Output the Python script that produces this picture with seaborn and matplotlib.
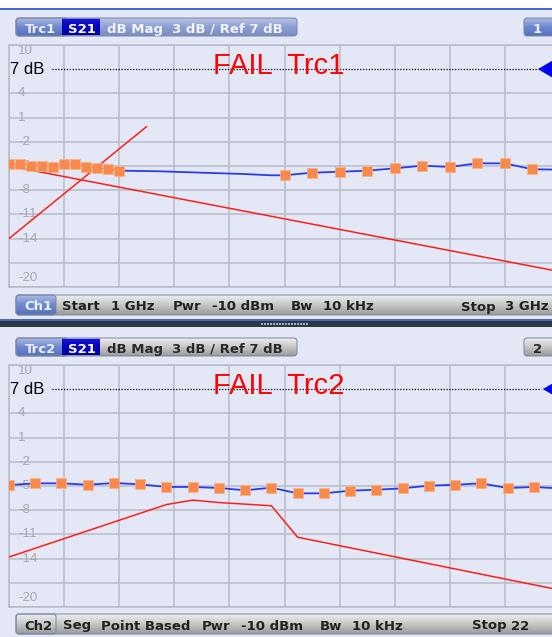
import numpy as np
import pandas as pd
import matplotlib
matplotlib.use("Agg")
import matplotlib.pyplot as plt
import seaborn as sns
from matplotlib.patches import FancyBboxPatch, Rectangle
from matplotlib.colors import LinearSegmentedColormap

# ---------------- data ----------------
# Channel 1: frequency sweep 1 GHz .. 3 GHz
trc1_marker_ghz = [1.00, 1.04, 1.08, 1.12, 1.16, 1.20, 1.24, 1.28, 1.32, 1.36, 1.40,
                   2.0, 2.1, 2.2, 2.3, 2.4, 2.5, 2.6, 2.7, 2.8, 2.9]
trc1_marker_db = [-4.80, -4.72, -4.96, -4.96, -5.12, -4.75, -4.75, -5.09, -5.29, -5.41, -5.58,
                  -6.15, -5.83, -5.71, -5.58, -5.29, -4.96, -5.12, -4.67, -4.67, -5.41]
trc1_extra_ghz = [1.45, 1.55, 1.70, 1.85, 1.95, 3.00]
trc1_extra_db = [-5.60, -5.66, -5.83, -5.99, -6.15, -5.45]

limit1a_ghz = [1.0, 3.0]
limit1a_db = [-5.0, -18.1]
limit1b_ghz = [1.0, 1.5]
limit1b_db = [-14.0, -0.1]

# Channel 2: segmented sweep on a point axis
trc2_point = list(range(1, 22))
trc2_db = [-4.88, -4.67, -4.67, -4.84, -4.63, -4.79, -5.12, -5.12, -5.25, -5.53, -5.21,
           -5.91, -5.91, -5.58, -5.46, -5.29, -4.96, -4.84, -4.67, -5.25, -5.12]
trc2_extra_point = [22]
trc2_extra_db = [-5.30]

limit2_point = [1, 7, 8, 9, 11, 12, 22]
limit2_db = [-13.8, -7.3, -6.75, -7.05, -7.45, -11.35, -17.9]

# y scale: 3 dB / div, reference 7 dB, top 10 dB
ref_level = 7
y_grid = [10, 4, 1, -2, -5, -8, -11, -14, -17, -20]
y_label_vals = [10, 4, 1, -2, -5, -8, -11, -14, -20]
y_label_txt = ["10", "4", "1", "-2", "-5", "-8", "-11", "-14", "-20"]

# ---------------- styling ----------------
W, H = 552, 637
BG = "#E4E8F6"
GRID = "#B8BCC6"
BLUE = "#2B3CEE"
RED = "#FF1E1E"
ORANGE = "#F98A4A"

sns.set_style("white")
plt.rcParams["font.family"] = ["DejaVu Sans"]

fig = plt.figure(figsize=(W / 100, H / 100), dpi=100, facecolor=BG)
bg = fig.add_axes([0, 0, 1, 1], zorder=0)
bg.set_xlim(0, W)
bg.set_ylim(H, 0)
bg.axis("off")


def grad_box(x0, y0, x1, y1, colors, r=3.0, ec="#7A86A0", z=1):
    patch = FancyBboxPatch((x0, y0), x1 - x0, y1 - y0,
                           boxstyle=f"round,pad=0,rounding_size={r}",
                           fc="none", ec=ec, lw=0.7, zorder=z + 0.5)
    bg.add_patch(patch)
    cmap = LinearSegmentedColormap.from_list("g", colors)
    grad = np.linspace(0, 1, 64).reshape(-1, 1)
    im = bg.imshow(grad, cmap=cmap, extent=(x0, x1, y1, y0), aspect="auto",
                   interpolation="bilinear", zorder=z)
    im.set_clip_path(patch)


def chrome_text(x, y, s, color, size=9.5):
    bg.text(x, y, s, color=color, fontsize=size, fontweight="bold",
            family="DejaVu Sans", va="baseline", ha="left", zorder=5)


BLUE_GRAD = ["#A9BAE6", "#6F88CF", "#5670BE"]
BLUE_REST = ["#B9C5E6", "#8D9FD2", "#7A8DC4"]
GRAY_GRAD = ["#EEEEEE", "#C6C6C6", "#9A9A9A"]
S21_GRAD = ["#1A1AD8", "#0000BE", "#0000A8"]

# top strip
bg.add_patch(Rectangle((0, 0), W, 8.3, fc="white", ec="none", zorder=1))
bg.add_patch(Rectangle((0, 8.3), W, 1.3, fc="#4766CC", ec="none", zorder=1))

# separator between the two channels
bg.add_patch(Rectangle((0, 319.4), W, 1.2, fc="#4766CC", ec="none", zorder=1))
bg.add_patch(Rectangle((0, 320.6), W, 6.4, fc="#2E3843", ec="none", zorder=1))
for xd in np.arange(261, 309, 3):
    bg.add_patch(Rectangle((xd, 322.8), 1.8, 2.0, fc="#A6AEBA", ec="none", zorder=2))


def header(y0, name, num, active):
    y1 = y0 + 18
    rest = BLUE_REST if active else GRAY_GRAD
    grad_box(16, y0, 297, y1, rest)
    grad_box(16, y0, 68, y1, BLUE_GRAD)
    grad_box(62, y0 + 0.8, 100, y1 - 0.8, S21_GRAD, r=0.1, ec="none", z=3)
    grad_box(524, y0, 575, y1, BLUE_GRAD if active else GRAY_GRAD)
    base = y0 + 15
    chrome_text(25, base, name, "#EAF0FA")
    chrome_text(68, base, "S21", "white")
    rest_col = "#F2F4FB" if active else "#2A2A2A"
    chrome_text(107, base, "dB Mag", rest_col)
    chrome_text(172, base, "3 dB / Ref 7 dB", rest_col)
    chrome_text(533, base, num, "#EAF0FA" if active else "#2A2A2A")


def footer(y0, chunks, ch_name, active):
    y1 = y0 + 20
    grad_box(16, y0, 575, y1, GRAY_GRAD)
    grad_box(16, y0, 56, y1, BLUE_GRAD if active else GRAY_GRAD)
    base = y0 + 15.5
    chrome_text(24, base, ch_name, "#EEF2FA" if active else "#222222")
    for x, s in chunks:
        chrome_text(x, base, s, "#222222")


header(18, "Trc1", "1", True)
header(338, "Trc2", "2", False)
footer(295, [(62, "Start"), (111, "1 GHz"), (173, "Pwr"), (212, "-10 dBm"),
             (291, "Bw"), (323, "10 kHz"), (461, "Stop"), (505, "3 GHz")], "Ch1", True)
footer(614, [(63, "Seg"), (101, "Point Based"), (202, "Pwr"), (241, "-10 dBm"),
             (320, "Bw"), (352, "10 kHz"), (472, "Stop"), (511, "22")], "Ch2", False)


# ---------------- diagrams ----------------
def diagram(top_px, xlim, xgrid):
    ax = fig.add_axes([9 / W, 1 - (top_px + 242) / H, 551 / W, 242 / H], zorder=2)
    ax.set_facecolor("none")
    ax.set_xlim(*xlim)
    ax.set_ylim(-20, 10)
    ax.set_xticks(xgrid)
    ax.set_yticks(y_grid)
    ax.tick_params(length=0, labelbottom=False, labelleft=False)
    ax.grid(True, color=GRID, lw=1.1)
    ax.set_axisbelow(True)
    for sp in ax.spines.values():
        sp.set_color(GRID)
        sp.set_linewidth(1.1)
    tr = ax.get_yaxis_transform()
    for v, t in zip(y_label_vals, y_label_txt):
        va = "top" if v == 10 else ("bottom" if v == -20 else "center")
        off = 0.0 if v == 10 else (0.4 if v == -20 else 0)
        ax.text(0.0163, v + off, t, transform=tr, color="#A6A8AE", fontsize=9.5,
                family="Liberation Sans", va=va, ha="left", zorder=1)
    ax.text(0.002, ref_level - 0.05, "7 dB", transform=tr, color="black", fontsize=12,
            family="Liberation Sans", va="center", ha="left", zorder=4)
    return ax


def ref_marks(ax, dot_end, tri_x):
    tr = ax.get_yaxis_transform()
    ax.plot([0.078, dot_end], [ref_level, ref_level], transform=tr, color="black",
            lw=0.9, dashes=(1, 1.3), zorder=3)
    ax.plot([tri_x], [ref_level], transform=tr, ls="none",
            marker=[(-0.86, 0), (0.86, 1), (0.86, -1)], ms=15, mfc="#0000FF",
            mec="#0000FF", clip_on=False, zorder=5)


# Channel 1
ax1 = diagram(45, (1, 3), np.linspace(1, 3, 11))
sns.lineplot(x=limit1a_ghz, y=limit1a_db, ax=ax1, color=RED, lw=1.1, estimator=None, zorder=3)
sns.lineplot(x=limit1b_ghz, y=limit1b_db, ax=ax1, color=RED, lw=1.1, estimator=None, zorder=3)
trc1_line = pd.DataFrame({"f": trc1_marker_ghz + trc1_extra_ghz,
                          "db": trc1_marker_db + trc1_extra_db}).sort_values("f")
sns.lineplot(data=trc1_line, x="f", y="db", ax=ax1, color=BLUE, lw=1.3,
             estimator=None, sort=True, zorder=4)
sns.scatterplot(x=trc1_marker_ghz, y=trc1_marker_db, ax=ax1, marker="s", s=42,
                color=ORANGE, edgecolor="#FBB287", linewidth=0.5, zorder=5)
ref_marks(ax1, 0.96, 0.976)
ax1.set_xlabel("")
ax1.set_ylabel("")
ax1.text(213, 74, "FAIL  Trc1", transform=bg.transData, color="#FF0000", fontsize=21,
         family="Liberation Sans", va="baseline", ha="left", zorder=6)

# Channel 2
ax2 = diagram(365, (1, 22), np.linspace(1, 22, 11))
sns.lineplot(x=limit2_point, y=limit2_db, ax=ax2, color=RED, lw=1.1, estimator=None, zorder=3)
trc2_line = pd.DataFrame({"p": trc2_point + trc2_extra_point,
                          "db": trc2_db + trc2_extra_db})
sns.lineplot(data=trc2_line, x="p", y="db", ax=ax2, color=BLUE, lw=1.3,
             estimator=None, sort=True, zorder=4)
sns.scatterplot(x=trc2_point, y=trc2_db, ax=ax2, marker="s", s=42,
                color=ORANGE, edgecolor="#FBB287", linewidth=0.5, zorder=5)
ref_marks(ax2, 0.965, 0.985)
ax2.set_xlabel("")
ax2.set_ylabel("")
ax2.text(213, 394, "FAIL  Trc2", transform=bg.transData, color="#FF0000", fontsize=21,
         family="Liberation Sans", va="baseline", ha="left", zorder=6)

bg.set_xlim(0, W)
bg.set_ylim(H, 0)
fig.savefig("out.png", dpi=100, facecolor=BG)
